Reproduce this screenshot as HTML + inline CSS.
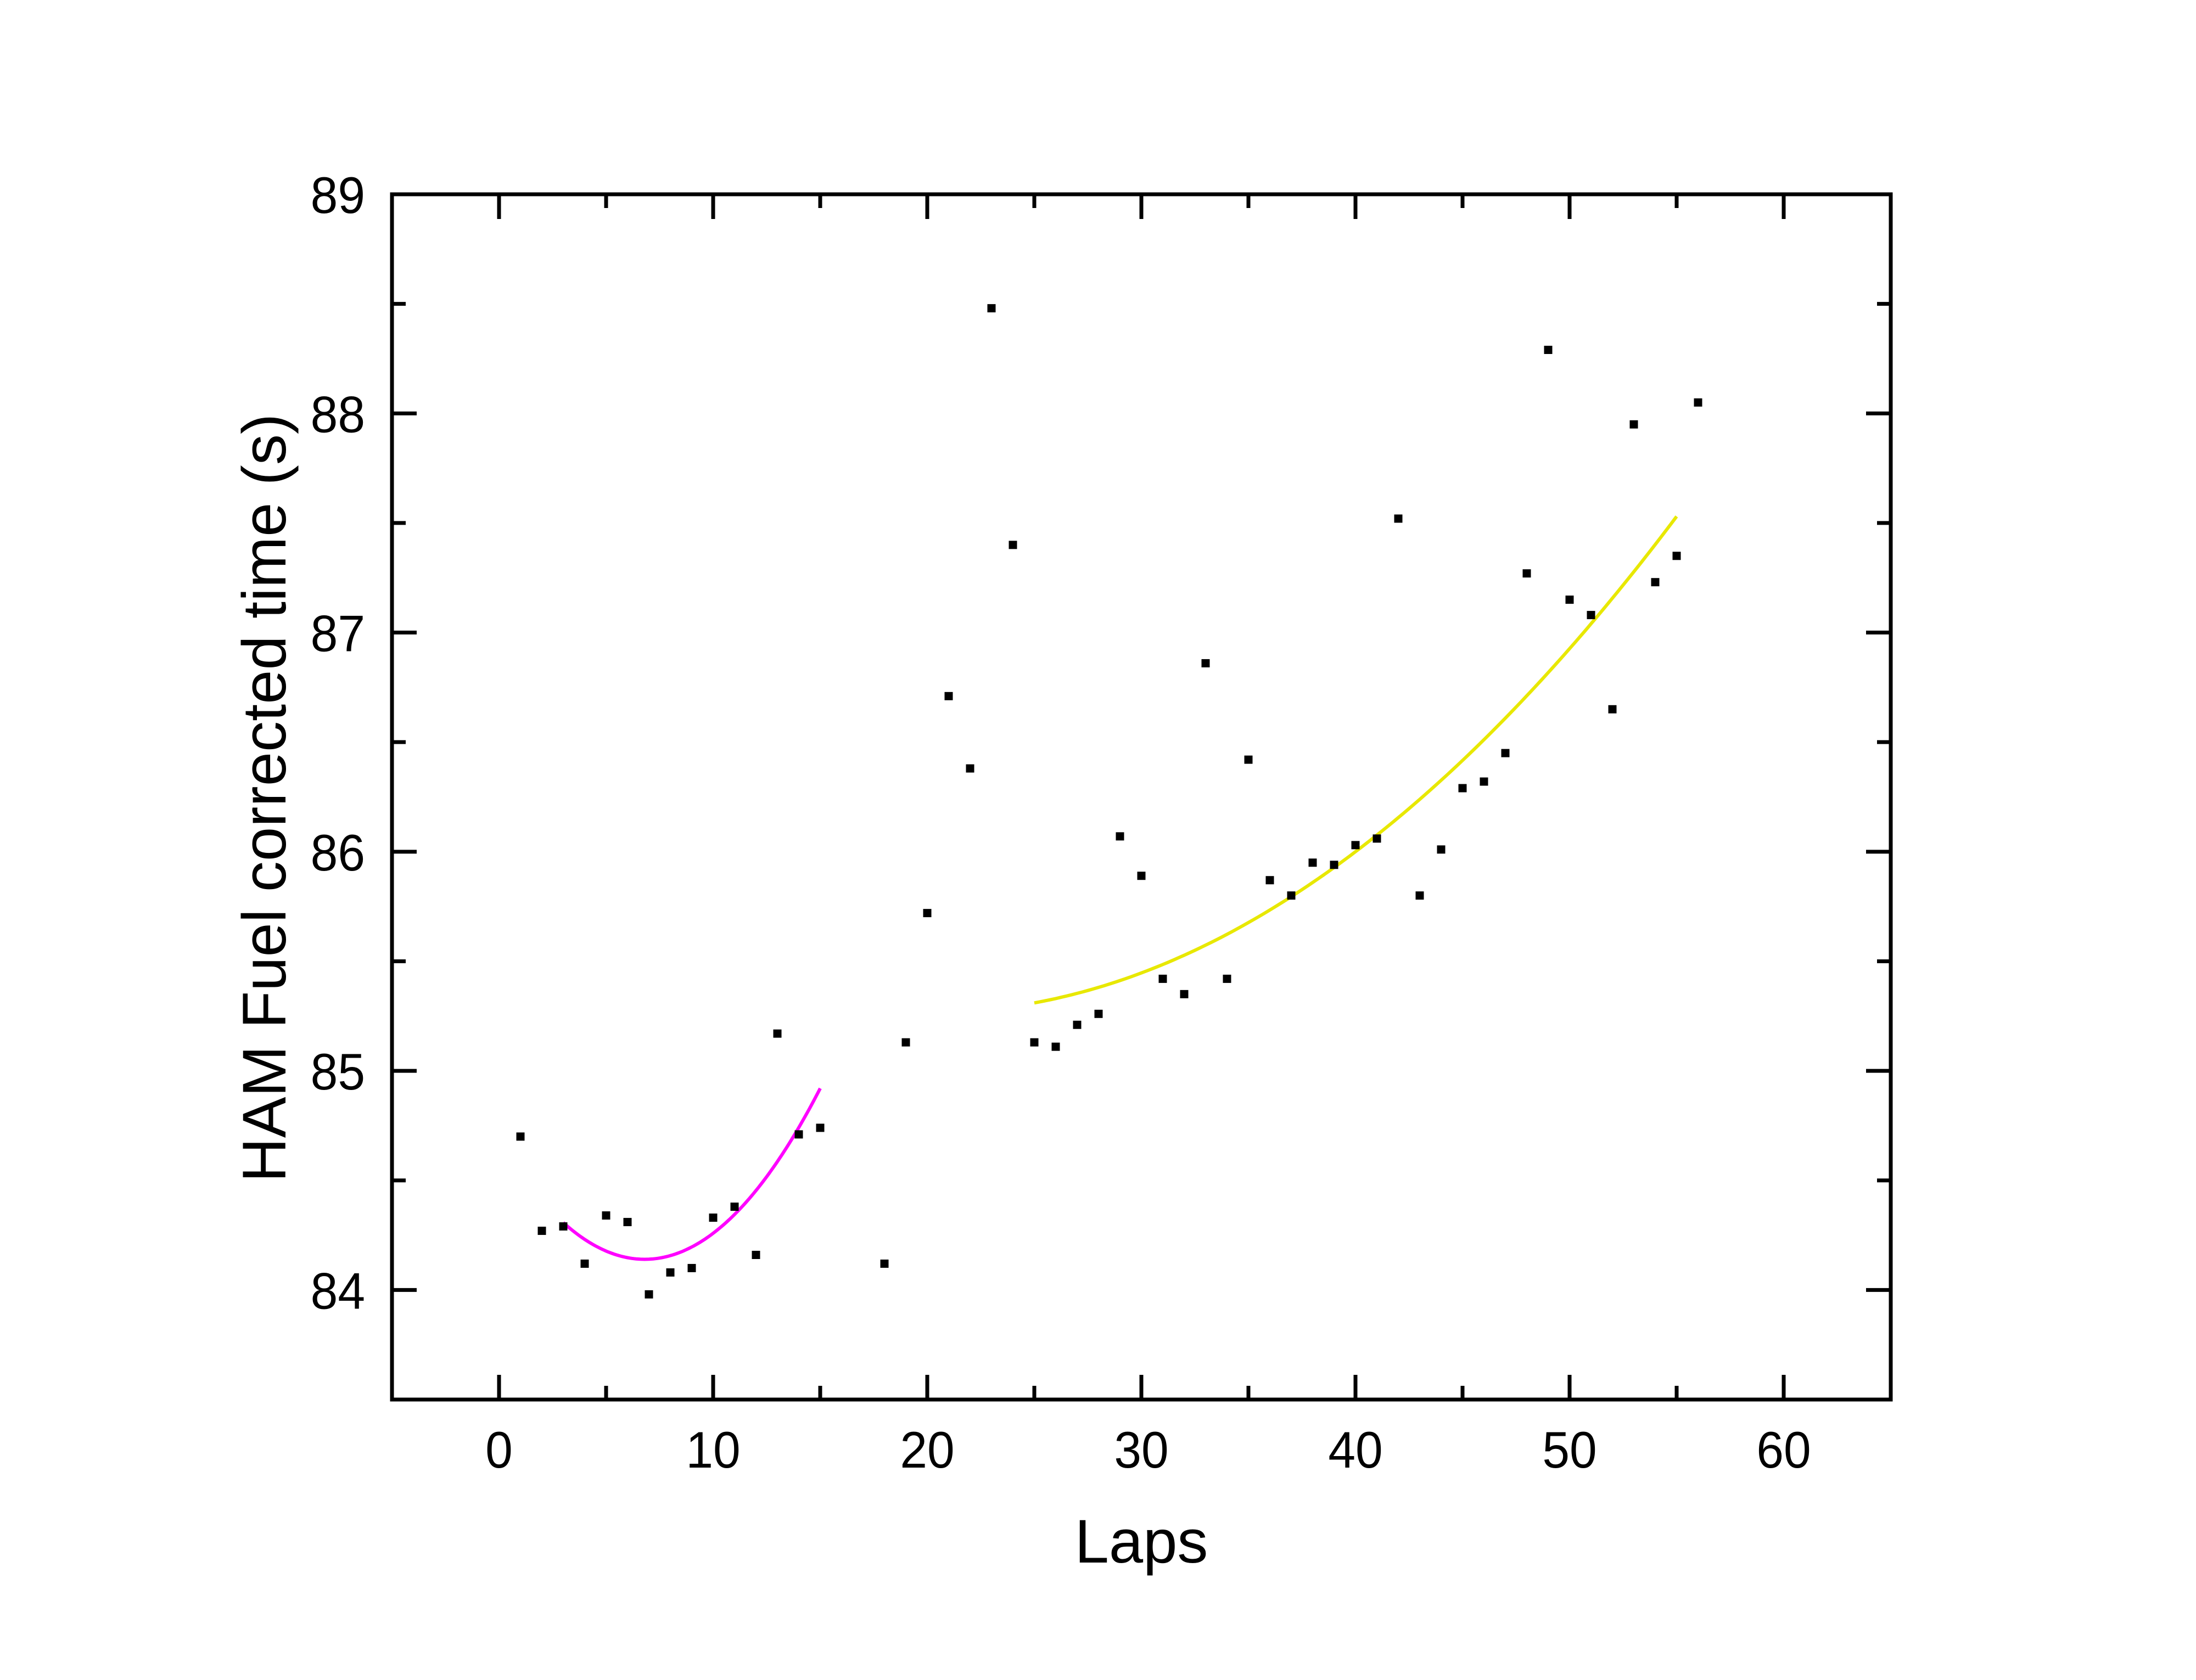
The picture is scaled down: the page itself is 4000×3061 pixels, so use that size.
<!DOCTYPE html>
<html><head><meta charset="utf-8"><style>
html,body{margin:0;padding:0;background:#fff}
svg{display:block}
text{font-family:"Liberation Sans",Arial,sans-serif;fill:#000}
</style></head><body>
<svg id="chart" width="4000" height="3061" viewBox="0 0 4000 3061" xmlns="http://www.w3.org/2000/svg">
<rect width="4000" height="3061" fill="#fff"/>
<g id="marks"></g>
<g id="axes"></g>
<text x="2079" y="2847" font-size="112" text-anchor="middle">Laps</text>
<text transform="translate(520,1454) rotate(-90)" font-size="112" text-anchor="middle">HAM Fuel corrected time (s)</text>
</svg>
<script>
const laps = [1,2,3,4,5,6,7,8,9,10,11,12,13,14,15,18,19,20,21,22,23,24,25,26,27,28,29,30,31,32,33,34,35,36,37,38,39,40,41,42,43,44,45,46,47,48,49,50,51,52,53,54,55,56];
const times = [84.70,84.27,84.29,84.12,84.34,84.31,83.98,84.08,84.10,84.33,84.38,84.16,85.17,84.71,84.74,84.12,85.13,85.72,86.71,86.38,88.48,87.40,85.13,85.11,85.21,85.26,86.07,85.89,85.42,85.35,86.86,85.42,86.42,85.87,85.80,85.95,85.94,86.03,86.06,87.52,85.80,86.01,86.29,86.32,86.45,87.27,88.29,87.15,87.08,86.65,87.95,87.23,87.35,88.05];
// quadratic fits: y = c + b*(x-x0) + a*(x-x0)^2 over [start,end]
const fit1Range = [3,15];
const fit1Coef = [6.8, 84.14, 0, 0.0116]; // x0, c, b, a
const fit2Range = [25,55];
const fit2Coef = [40, 86.0, 0.074, 0.001867];
const xTicks = [0,10,20,30,40,50,60];
const yTicks = [84,85,86,87,88,89];
const xDomain = [-5,65], yDomain = [83.5,89];

const L=714,R=3444,T=354,B=2550;
const sx=v=>L+(v-xDomain[0])/(xDomain[1]-xDomain[0])*(R-L);
const sy=v=>B-(v-yDomain[0])/(yDomain[1]-yDomain[0])*(B-T);
const NS="http://www.w3.org/2000/svg";
const marks=document.getElementById('marks'), axes=document.getElementById('axes');
function mk(tag,attrs,parent){const e=document.createElementNS(NS,tag);for(const k in attrs)e.setAttribute(k,attrs[k]);parent.appendChild(e);return e;}

function fitPath(range,coef){let d='';for(let i=0;i<=120;i++){const x=range[0]+(range[1]-range[0])*i/120;const t=x-coef[0];const y=coef[1]+coef[2]*t+coef[3]*t*t;d+=(i?'L':'M')+sx(x).toFixed(1)+','+sy(y).toFixed(1);}return d;}
const f1=mk('path',{d:fitPath(fit1Range,fit1Coef),fill:'none',stroke:'#ff00ff','stroke-width':6},marks);


const f2=mk('path',{d:fitPath(fit2Range,fit2Coef),fill:'none',stroke:'#e8e800','stroke-width':6},marks);



laps.forEach((l,i)=>{
  const p=mk('rect',{x:sx(l)-7.5,y:sy(times[i])-7.5,width:15,height:15,fill:'#000'},marks);
  
  
});

const fr=mk('rect',{x:L,y:T,width:R-L,height:B-T,fill:'none',stroke:'#000','stroke-width':7},axes);



for(let v=xDomain[0];v<=xDomain[1];v+=5){
  if(v===xDomain[0]||v===xDomain[1])continue;
  const major=xTicks.includes(v), len=major?45:25, x=sx(v);
  const t1=mk('line',{x1:x,y1:B,x2:x,y2:B-len,stroke:'#000','stroke-width':7},axes);
  
  
  const t2=mk('line',{x1:x,y1:T,x2:x,y2:T+len,stroke:'#000','stroke-width':7},axes);
  
  
}
xTicks.forEach(v=>{
  const x=sx(v);
  const t=mk('text',{x:0,y:0,'font-size':94,'text-anchor':'middle',transform:'translate('+x+',2674) scale(0.95,1)'},axes);t.textContent=v;
  
  
});
for(let v=yDomain[0];v<=yDomain[1]+1e-9;v+=0.5){
  if(Math.abs(v-yDomain[0])<1e-9||Math.abs(v-yDomain[1])<1e-9)continue;
  const major=yTicks.includes(v), len=major?45:25, y=sy(v);
  const t1=mk('line',{x1:L,y1:y,x2:L+len,y2:y,stroke:'#000','stroke-width':7},axes);
  
  
  const t2=mk('line',{x1:R,y1:y,x2:R-len,y2:y,stroke:'#000','stroke-width':7},axes);
  
  
}
yTicks.forEach(v=>{
  const y=sy(v)+34;
  const t=mk('text',{x:0,y:0,'font-size':94,'text-anchor':'end',transform:'translate(665,'+y+') scale(0.95,1)'},axes);t.textContent=v;
  
  
});
</script>
</body></html>
